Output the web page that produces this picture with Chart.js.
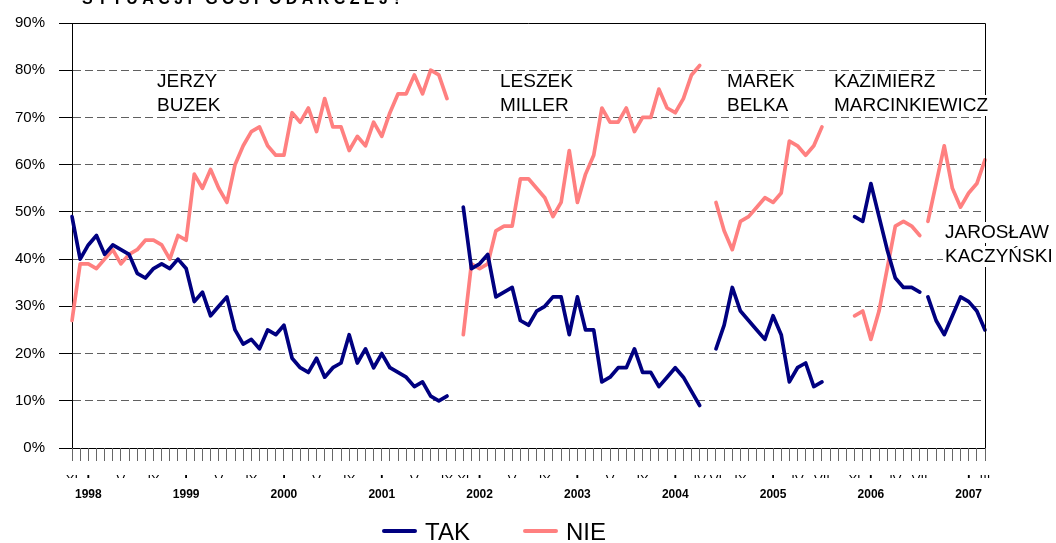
<!DOCTYPE html>
<html>
<head>
<meta charset="utf-8">
<script src="https://cdn.jsdelivr.net/npm/chart.js@4.4.0/dist/chart.umd.min.js"></script>
<style>
  html, body { margin: 0; padding: 0; background: #fff; overflow: hidden; }
  #wrap { width: 1056px; height: 543px; }
</style>
</head>
<body>
<div id="wrap"><canvas id="chart" width="1056" height="543"></canvas></div>
<script>
// one category per month, XI 1997 .. III 2007
const monthCount = 113;
const monthTicks = [[0, 'XI'], [2, 'I'], [6, 'V'], [10, 'IX'], [14, 'I'], [18, 'V'], [22, 'IX'],
    [26, 'I'], [30, 'V'], [34, 'IX'], [38, 'I'], [42, 'V'], [46, 'IX'], [48, 'XI'], [50, 'I'],
    [54, 'V'], [58, 'IX'], [62, 'I'], [66, 'V'], [70, 'IX'], [74, 'I'], [77, 'IV'], [79, 'VI'],
    [82, 'IX'], [86, 'I'], [89, 'IV'], [92, 'VII'], [96, 'XI'], [98, 'I'], [101, 'IV'], [104, 'VII'],
    [110, 'I'], [112, 'III']];
const yearTicks = [[2, '1998'], [14, '1999'], [26, '2000'], [38, '2001'], [50, '2002'],
    [62, '2003'], [74, '2004'], [86, '2005'], [98, '2006'], [110, '2007']];

// first month index of each cabinet
const cabinetStarts = [0, 48, 79, 96, 105];
const cabinetNames = [['JERZY', 'BUZEK'], ['LESZEK', 'MILLER'], ['MAREK', 'BELKA'],
    ['KAZIMIERZ', 'MARCINKIEWICZ'], ['JAROSŁAW', 'KACZYŃSKI']];

const takBuzek = [49, 40, 43, 45, 41, 43, 42, 41, 37, 36, 38, 39, 38, 40, 38, 31, 33, 28, 30, 32,
    25, 22, 23, 21, 25, 24, 26, 19, 17, 16, 19, 15, 17, 18, 24, 18, 21, 17, 20, 17, 16, 15, 13, 14, 11, 10, 11];
const nieBuzek = [27, 39, 39, 38, 40, 42, 39, 41, 42, 44, 44, 43, 40, 45, 44, 58, 55, 59, 55, 52,
    60, 64, 67, 68, 64, 62, 62, 71, 69, 72, 67, 74, 68, 68, 63, 66, 64, 69, 66, 71, 75, 75, 79, 75, 80, 79, 74];
const takMiller = [51, 38, 39, 41, 32, 33, 34, 27, 26, 29, 30, 32, 32, 24, 32, 25, 25, 14, 15, 17,
    17, 21, 16, 16, 13, 15, 17, 15, 12, 9];
const nieMiller = [24, 39, 38, 39, 46, 47, 47, 57, 57, 55, 53, 49, 52, 63, 52, 58, 62, 72, 69, 69,
    72, 67, 70, 70, 76, 72, 71, 74, 79, 81];
const takBelka = [21, 26, 34, 29, 27, 25, 23, 28, 24, 14, 17, 18, 13, 14];
const nieBelka = [52, 46, 42, 48, 49, 51, 53, 52, 54, 65, 64, 62, 64, 68];
const takMarcinkiewicz = [49, 48, 56, 49, 42, 36, 34, 34, 33];
const nieMarcinkiewicz = [28, 29, 23, 29, 38, 47, 48, 47, 45];
const takKaczynski = [32, 27, 24, 28, 32, 31, 29, 25];
const nieKaczynski = [48, 56, 64, 55, 51, 54, 56, 61];

const takSeries = [takBuzek, takMiller, takBelka, takMarcinkiewicz, takKaczynski];
const nieSeries = [nieBuzek, nieMiller, nieBelka, nieMarcinkiewicz, nieKaczynski];

const FONT = '"Liberation Sans", Arial, sans-serif';
const TAK_COLOR = '#000080';
const NIE_COLOR = '#FF8080';

function sparse(pairs) {
    const arr = new Array(monthCount).fill('');
    pairs.forEach(([i, t]) => { arr[i] = t; });
    return arr;
}

function place(values, start) {
    const arr = new Array(monthCount).fill(null);
    values.forEach((v, i) => { arr[start + i] = v; });
    return arr;
}

const monthLabels = sparse(monthTicks);
const yearLabels = sparse(yearTicks);

const datasets = [];
cabinetStarts.forEach((start, k) => {
    datasets.push({ label: 'TAK', data: place(takSeries[k], start), borderColor: TAK_COLOR, backgroundColor: TAK_COLOR, borderWidth: 3.7 });
    datasets.push({ label: 'NIE', data: place(nieSeries[k], start), borderColor: NIE_COLOR, backgroundColor: NIE_COLOR, borderWidth: 3.7 });
});

// text placement of cabinet names (left x, first baseline)
const notePos = [[157, 87], [500, 87], [727, 87], [834, 87], [945, 238]];

// same rounding chart.js uses for 1px lines
const crisp = p => Math.round(p - 0.5) + 0.5;

const extras = {
    id: 'extras',
    afterDraw(chart) {
        const ctx = chart.ctx;
        const a = chart.chartArea;
        ctx.save();
        // top and right frame
        ctx.strokeStyle = '#000';
        ctx.lineWidth = 1;
        ctx.beginPath();
        ctx.moveTo(a.left, crisp(a.top));
        ctx.lineTo(crisp(a.right), crisp(a.top));
        ctx.lineTo(crisp(a.right), a.bottom);
        ctx.stroke();

        // month tick marks under the axis and outside ticks on the value axis
        const xs = chart.scales.x;
        const ys = chart.scales.y;
        ctx.strokeStyle = '#666';
        ctx.beginPath();
        xs.ticks.forEach((t, i) => {
            const px = crisp(xs.getPixelForTick(i));
            ctx.moveTo(px, a.bottom);
            ctx.lineTo(px, a.bottom + 13);
        });
        ctx.stroke();
        ctx.strokeStyle = '#000';
        ctx.beginPath();
        ys.ticks.forEach((t) => {
            const py = crisp(ys.getPixelForValue(t.value));
            ctx.moveTo(a.left - 13, py);
            ctx.lineTo(a.left, py);
        });
        ctx.stroke();

        // cabinet names
        ctx.font = '19px ' + FONT;
        ctx.textBaseline = 'alphabetic';
        ctx.textAlign = 'left';
        cabinetNames.forEach((lines, k) => {
            const [x, y] = notePos[k];
            lines.forEach((t, j) => {
                const w = ctx.measureText(t).width;
                ctx.fillStyle = '#fff';
                ctx.fillRect(x - 2, y + j * 24 - 16, w + 4, 21);
            });
            ctx.fillStyle = '#000';
            lines.forEach((t, j) => ctx.fillText(t, x, y + j * 24));
        });

        // legend
        const items = [chart.data.datasets[0], chart.data.datasets[1]];
        const legendX = [384, 525];
        ctx.font = '24px ' + FONT;
        ctx.lineCap = 'round';
        items.forEach((ds, k) => {
            const x = legendX[k];
            ctx.strokeStyle = ds.borderColor;
            ctx.lineWidth = 4;
            ctx.beginPath();
            ctx.moveTo(x, 531);
            ctx.lineTo(x + 31, 531);
            ctx.stroke();
            ctx.fillStyle = '#000';
            ctx.fillText(ds.label, x + 41, 540);
        });

        // cut-off question at the top
        ctx.font = 'bold 16px ' + FONT;
        if ('letterSpacing' in ctx) ctx.letterSpacing = '4.4px';
        ctx.fillStyle = '#000';
        ctx.fillText('SYTUACJI GOSPODARCZEJ?', 82, 4);
        ctx.restore();
    }
};

new Chart(document.getElementById('chart'), {
    type: 'line',
    data: { labels: monthLabels, datasets: datasets },
    options: {
        responsive: false,
        animation: false,
        layout: { padding: { top: 20, right: 71, bottom: 40, left: 0 } },
        plugins: { legend: { display: false }, tooltip: { enabled: false } },
        elements: {
            point: { radius: 0 },
            line: { tension: 0, borderJoinStyle: 'round', borderCapStyle: 'round' }
        },
        scales: {
            x: {
                type: 'category',
                offset: false,
                weight: 0,
                grid: { drawOnChartArea: false, drawTicks: true, tickLength: 13, tickWidth: 1, tickColor: '#666', offset: false },
                border: { color: '#000', width: 1 },
                ticks: {
                    autoSkip: false, maxRotation: 0, minRotation: 0, padding: 12, color: '#000',
                    font: ctx => ({ family: FONT, size: 13, weight: ctx.tick && ctx.tick.label === 'I' ? 'bold' : 'normal' })
                },
                afterFit: s => { s.height = 30; }
            },
            x2: {
                type: 'category',
                labels: yearLabels,
                position: 'bottom',
                offset: false,
                weight: 1,
                grid: { display: false, drawTicks: false },
                border: { display: false },
                ticks: { autoSkip: false, maxRotation: 0, minRotation: 0, padding: 9, color: '#000', font: { family: FONT, size: 12, weight: 'bold' } },
                afterFit: s => { s.height = 25; }
            },
            y: {
                min: 0,
                max: 90,
                ticks: { stepSize: 10, padding: 14, color: '#000', font: { family: FONT, size: 15 }, callback: v => v + '%' },
                grid: { color: '#606060', lineWidth: 1, tickLength: 13, tickWidth: 1, tickColor: '#000' },
                border: { display: true, color: '#000', width: 1, dash: [8, 4] },
                afterFit: s => { s.width = 72; }
            }
        }
    },
    plugins: [extras]
});
</script>
</body>
</html>
